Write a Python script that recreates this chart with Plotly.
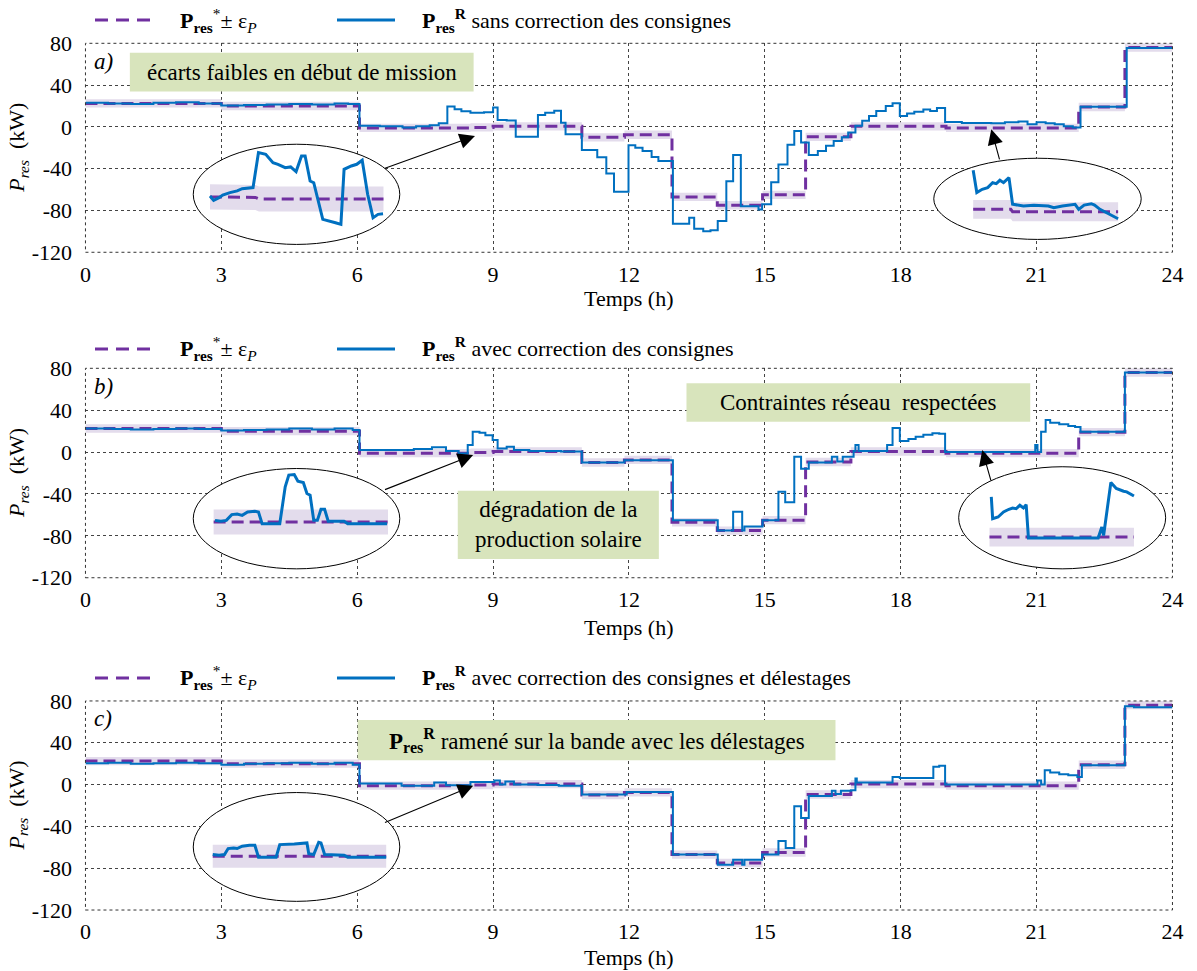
import plotly.graph_objects as go

FONT = "'Liberation Serif', 'Times New Roman', Times, serif"
PURPLE = "#7030a0"
BLUE = "#0070c0"
BAND = "#e3dcec"
BOXC = "#d8e4bc"
EPS = 4.0

# ---------------- data ----------------
ref_t = [0, 3.0, 6.05, 8.5, 9.0, 10.96, 11.9, 12.95, 13.95, 14.95, 15.9, 16.9, 19.0, 21.93, 22.95, 24]
ref_v = [22.5, 20, -1, -0.5, 0.5, -10, -7.5, -67, -75, -65, -9.5, 0.5, -1, 19, 76, 76]

a_t = [0, 0.5, 1.0, 1.5, 2.0, 2.5, 3.0, 3.5, 4.0, 4.5, 5.0, 5.5, 5.8, 6.05, 6.5, 7.0, 7.3, 7.6, 7.8,
       7.99, 8.15, 8.3, 8.5, 8.8, 9.0, 9.1, 9.3, 9.5, 9.99, 10.15, 10.35, 10.5, 10.6, 10.96, 11.3, 11.5,
       11.67, 11.99, 12.14, 12.3, 12.5, 12.65, 12.97, 13.33, 13.44, 13.64, 13.8, 13.96, 14.15, 14.3,
       14.47, 14.86, 14.94, 15.14, 15.3, 15.5, 15.65, 15.8, 15.97, 16.17, 16.35, 16.52, 16.7, 16.84,
       17.0, 17.15, 17.3, 17.46, 17.67, 17.82, 17.98, 18.14, 18.3, 18.5, 18.65, 18.8, 18.98, 19.35,
       20.0, 20.3, 20.6, 20.8, 21.0, 21.2, 21.4, 21.6, 21.8, 21.97, 22.99, 24]
a_v = [23, 22.5, 22, 23, 23.5, 22.5, 20.5, 21, 21.5, 22, 21.5, 22.5, 22, 1, 0.5, -0.5, 0.5, 1.5, 3.5,
       19.5, 17, 15, 13.5, 14, 18.5, 6.5, 6, -9.5, 11.5, 13.5, 15.5, 4, -7, -22, -29, -44.5,
       -62, -17.6, -20, -23, -28.8, -32.6, -92.6, -87, -97.4, -100, -99, -90, -52, -27,
       -76, -79, -74, -53, -36, -17, -4, -15, -27, -23, -18, -13.4, -10, -5.4,
       1, 5.8, 10.5, 15.3, 20, 22.7, 10.5, 12.8, 14.4, 16.6, 15.3, 18.2, 4.8, 3.8,
       3.5, 4.5, 5.2, 2.5, 4.5, 3.5, 2.5, 0.5, -0.5, 19.2, 75.5, 75.5]

b_t = [0, 0.6, 1.0, 1.5, 2.0, 2.5, 3.0, 3.5, 4.0, 4.5, 5.0, 5.5, 5.9, 6.05, 7.25, 7.65, 7.96, 8.24,
       8.44, 8.55, 8.7, 8.83, 8.99, 9.1, 9.3, 9.46, 9.8, 10.5, 10.96, 11.9, 12.97, 13.96, 14.3, 14.5,
       14.55, 14.95, 15.3, 15.45, 15.65, 15.8, 15.97, 16.48, 16.6, 16.72, 16.96, 17.0, 17.07, 17.7,
       17.82, 17.98, 18.17, 18.33, 18.5, 18.7, 18.85, 18.98, 20.97, 21.02, 21.1, 21.2, 21.3, 21.5,
       21.7, 21.85, 21.97, 22.95, 24]
b_v = [22.5, 22, 21.5, 22, 22.5, 22, 20.5, 21, 21.5, 22.5, 21.5, 22.5, 21, 2, 3, 4.5, 1, -1.3,
       6.7, 19.5, 18.5, 16, 11.5, 3.5, 5, 2, 1, 0.5, -10, -7.7, -65, -75, -57, -75,
       -71, -65, -38, -48, -4.5, -16, -10, -4.5, -9, -4.5, 1, 6.7, 1, 6.7,
       23, 10.5, 12.5, 14.7, 16.5, 18, 17.5, 0, 6.7, 0, 19.5, 30.7, 28, 26.5,
       25, 24, 19.5, 76, 76]

c_t = [0, 0.5, 1.0, 1.5, 2.0, 2.5, 3.0, 3.5, 4.0, 4.5, 5.0, 5.5, 5.9, 6.05, 6.98, 7.7, 7.96, 8.5,
       9.03, 9.15, 9.27, 9.46, 9.98, 10.45, 10.96, 11.95, 12.97, 13.96, 14.3, 14.5, 14.55, 14.94,
       15.3, 15.46, 15.65, 15.8, 15.97, 16.48, 16.56, 16.68, 16.9, 17.0, 17.03, 17.82, 17.98, 18.72,
       18.85, 18.98, 21.02, 21.1, 21.18, 21.3, 21.5, 21.7, 21.9, 22.0, 22.95, 23.15, 24]
c_v = [20.5, 21, 20, 20.5, 21, 20.5, 19, 20, 20.5, 21, 20, 21, 19, 1, -1, 2, -0.6, 2.5,
       4, 0, 3, 0, -0.5, -1, -9.6, -7, -67, -76.7, -72, -76.7, -72, -67,
       -54, -60.7, -20.8, -32, -10.9, -6, -9, -6, -5.5, 5.8, 2, 7.3, 6.4, 17,
       18, 0, 4, 0, 13.7, 11.5, 10, 9, 7.3, 18.5, 75, 74, 74]

# zoom insets (drawn inside the ellipses)
ia1_ref_x = [2.75, 3.75, 3.83, 6.58]
ia1_ref_y = [-67, -67.5, -69, -69]
ia1_x = [2.75, 2.83, 2.95, 3.03, 3.19, 3.35, 3.46, 3.70, 3.82, 3.98, 4.14, 4.25, 4.41, 4.53, 4.65,
         4.77, 4.85, 4.96, 5.04, 5.24, 5.52, 5.64, 5.71, 5.87, 5.99, 6.11, 6.23, 6.35, 6.46, 6.57]
ia1_y = [-66.1, -70.3, -67.7, -65.2, -62.9, -61.3, -59.1, -58.1, -24.6, -26.2, -34.2, -35.8, -39.0,
         -38.3, -42.8, -27.8, -27.8, -51.8, -53.4, -88.5, -91.7, -93.3, -40.6, -37.4, -35.8, -31.9,
         -64.5, -86.9, -83.7, -83.1]

ia2_ref_x = [19.60, 20.43, 20.47, 22.80]
ia2_ref_y = [-78.9, -78.9, -81.2, -81.2]
ia2_x = [19.60, 19.68, 19.80, 19.92, 20.03, 20.11, 20.19, 20.27, 20.39, 20.47, 20.71, 20.94, 21.26,
         21.38, 21.57, 21.73, 21.85, 21.93, 22.05, 22.21, 22.28, 22.40, 22.60, 22.80]
ia2_y = [-41.5, -62.9, -59.7, -58.1, -53.4, -54.3, -51.1, -53.4, -48.6, -74.1, -75.7, -75.1, -75.7,
         -77.3, -75.7, -74.8, -74.1, -78.9, -74.8, -73.5, -74.8, -78.9, -83.7, -87.9]

ib1_ref_x = [2.83, 6.68]
ib1_ref_y = [-66.8, -66.8]
ib1_x = [2.86, 2.99, 3.11, 3.23, 3.35, 3.46, 3.58, 3.74, 3.82, 3.90, 4.29, 4.41, 4.49, 4.61, 4.69,
         4.81, 4.89, 4.96, 5.04, 5.12, 5.20, 5.28, 5.36, 5.71, 5.79, 6.66]
ib1_y = [-65.2, -66.1, -65.2, -59.7, -59.1, -60.4, -57.2, -56.5, -57.2, -68.4, -68.4, -33.2, -22.0,
         -21.4, -27.8, -29.1, -39.6, -41.2, -65.2, -65.2, -54.6, -54.6, -66.1, -66.1, -68.4, -68.4]

ib2_ref_x = [19.96, 23.15]
ib2_ref_y = [-81.2, -81.2]
ib2_x = [20.00, 20.03, 20.15, 20.27, 20.39, 20.47, 20.55, 20.63, 20.71, 20.77, 20.82, 22.36, 22.44,
         22.48, 22.64, 22.76, 22.92, 22.99, 23.15]
ib2_y = [-42.8, -63.6, -62.0, -57.2, -54.6, -53.4, -54.0, -50.8, -53.4, -50.2, -82.1, -82.1, -71.6,
         -79.6, -29.1, -34.8, -37.4, -38.0, -41.9]

ic1_ref_x = [2.81, 6.64]
ic1_ref_y = [-68.5, -68.5]
ic1_x = [2.81, 2.95, 3.07, 3.15, 3.27, 3.35, 3.46, 3.62, 3.74, 3.82, 4.21, 4.29, 4.61, 4.81, 4.89,
         4.93, 5.04, 5.15, 5.20, 5.28, 5.71, 5.79, 6.64]
ic1_y = [-66.9, -67.5, -66.9, -61.2, -60.6, -61.2, -59.0, -58.0, -58.0, -69.4, -69.4, -57.4, -56.8,
         -55.8, -55.8, -66.2, -66.9, -55.2, -55.8, -66.9, -67.5, -69.4, -69.4]

x_ticks = [0, 3, 6, 9, 12, 15, 18, 21, 24]
y_ticks = [-120, -80, -40, 0, 40, 80]
y_tick_text = ["-120", "-80", "-40", "0", "40", "80"]

legend_blue = [
    "<b>P<sub>res</sub><sup>R</sup></b> sans correction des consignes",
    "<b>P<sub>res</sub><sup>R</sup></b> avec correction des consignes",
    "<b>P<sub>res</sub><sup>R</sup></b> avec correction des consignes et délestages",
]
legend_ref = "<b>P<sub>res</sub></b><sup>*</sup>± ε<sub><i>P</i></sub>"
panel_tags = ["a)", "b)", "c)"]

# ---------------- figure ----------------
X_DOM = [0.0714, 0.9795]
Y_DOMS = [[0.7402, 0.9554], [0.4050, 0.6207], [0.0628, 0.2781]]
LEG_Y = [0.9794, 0.6406, 0.3018]
XT_Y = [1 - 298 / 971, 1 - 627 / 971, 1 - 957 / 971]

fig = go.Figure()
shapes = []
annots = []

blue_sets = [(a_t, a_v), (b_t, b_v), (c_t, c_v)]
insets = [
    [(ia1_ref_x, ia1_ref_y, ia1_x, ia1_y, 12, (2.38, 6.94, -112.5, -16.6), (6.58, -40, 8.60, -8.6)),
     (ia2_ref_x, ia2_ref_y, ia2_x, ia2_y, 9, (18.73, 23.31, -107.7, -30.0), (20.19, -32.6, 20.0, -2.2))],
    [(ib1_ref_x, ib1_ref_y, ib1_x, ib1_y, 12, (2.38, 6.94, -111.5, -15.7), (6.58, -36.4, 8.56, -2.9)),
     (ib2_ref_x, ib2_ref_y, ib2_x, ib2_y, 9, (19.28, 23.85, -111.5, -14.0), (20.0, -28.4, 19.8, 1.9))],
    [(ic1_ref_x, ic1_ref_y, ic1_x, ic1_y, 11, (2.38, 6.94, -111.7, -7.6), (6.58, -36.9, 8.56, -1.0))],
]
boxes = [
    [((0.98, 8.57, 33.9, 71.0), "écarts faibles en début de mission")],
    [((8.22, 12.66, -102, -37), "dégradation de la<br>production solaire"),
     ((13.27, 20.86, 29.0, 65.8), "Contraintes réseau  respectées")],
    [((6.01, 16.56, 23.3, 61.7),
      "<b>P<sub>res</sub><sup>R</sup></b> ramené sur la bande avec les délestages")],
]

for i in range(3):
    xa = "x" if i == 0 else f"x{i+1}"
    ya = "y" if i == 0 else f"y{i+1}"
    lo = [v - EPS for v in ref_v]
    hi = [v + EPS for v in ref_v]
    fig.add_trace(go.Scatter(x=ref_t, y=lo, mode="lines", line=dict(width=0, shape="hv"),
                             xaxis=xa, yaxis=ya, showlegend=False, hoverinfo="skip"))
    fig.add_trace(go.Scatter(x=ref_t, y=hi, mode="lines", line=dict(width=0, shape="hv"),
                             fill="tonexty", fillcolor=BAND,
                             xaxis=xa, yaxis=ya, showlegend=False, hoverinfo="skip"))
    fig.add_trace(go.Scatter(x=ref_t, y=ref_v, mode="lines",
                             line=dict(color=PURPLE, width=3, dash="12px,6px", shape="hv"),
                             xaxis=xa, yaxis=ya, showlegend=False))
    bt, bv = blue_sets[i]
    fig.add_trace(go.Scatter(x=bt, y=bv, mode="lines",
                             line=dict(color=BLUE, width=2, shape="hv"),
                             xaxis=xa, yaxis=ya, showlegend=False))

    for (rx, ry, ix, iy, eps, ell, arr) in insets[i]:
        shapes.append(dict(type="circle", xref=xa, yref=ya, x0=ell[0], x1=ell[1], y0=ell[2], y1=ell[3],
                           line=dict(color="black", width=1), fillcolor="white", layer="between"))
        bx = list(rx) + list(rx[::-1])
        by = [v + eps for v in ry] + [v - eps for v in ry[::-1]]
        fig.add_trace(go.Scatter(x=bx, y=by, mode="lines", fill="toself", fillcolor=BAND,
                                 line=dict(width=0), xaxis=xa, yaxis=ya, showlegend=False,
                                 hoverinfo="skip"))
        fig.add_trace(go.Scatter(x=rx, y=ry, mode="lines",
                                 line=dict(color=PURPLE, width=3, dash="12px,6px"),
                                 xaxis=xa, yaxis=ya, showlegend=False))
        fig.add_trace(go.Scatter(x=ix, y=iy, mode="lines",
                                 line=dict(color=BLUE, width=3),
                                 xaxis=xa, yaxis=ya, showlegend=False))
        annots.append(dict(x=arr[2], y=arr[3], ax=arr[0], ay=arr[1], xref=xa, yref=ya,
                           axref=xa, ayref=ya, text="", showarrow=True, arrowhead=2,
                           arrowsize=2.8, arrowwidth=1.1, arrowcolor="black"))

    for (bb, txt) in boxes[i]:
        shapes.append(dict(type="rect", xref=xa, yref=ya, x0=bb[0], x1=bb[1], y0=bb[2], y1=bb[3],
                           line=dict(width=0), fillcolor=BOXC, layer="between"))
        annots.append(dict(x=(bb[0] + bb[1]) / 2, y=(bb[2] + bb[3]) / 2, xref=xa, yref=ya,
                           text=txt, showarrow=False, font=dict(family=FONT, size=23, color="black"),
                           xanchor="center", yanchor="middle"))

    # dotted frame
    shapes.append(dict(type="rect", xref=f"{xa} domain", yref=f"{ya} domain", x0=0, x1=1, y0=0, y1=1,
                       line=dict(color="#333", width=1, dash="dot"), layer="above"))

    # panel tag
    annots.append(dict(x=0.15, y=63, xref=xa, yref=ya, text=f"<i>{panel_tags[i]}</i>",
                       showarrow=False, xanchor="left", yanchor="middle",
                       font=dict(family=FONT, size=23, color="black")))

    # legend (manual)
    ly = LEG_Y[i]
    shapes.append(dict(type="line", xref="paper", yref="paper", x0=95 / 1197, x1=153 / 1197, y0=ly, y1=ly,
                       line=dict(color=PURPLE, width=3, dash="13px,8px")))
    shapes.append(dict(type="line", xref="paper", yref="paper", x0=337 / 1197, x1=395 / 1197, y0=ly, y1=ly,
                       line=dict(color=BLUE, width=3)))
    annots.append(dict(x=178 / 1197, y=ly, xref="paper", yref="paper", text=legend_ref, showarrow=False,
                       xanchor="left", yanchor="middle", font=dict(family=FONT, size=22, color="black")))
    annots.append(dict(x=420 / 1197, y=ly, xref="paper", yref="paper", text=legend_blue[i], showarrow=False,
                       xanchor="left", yanchor="middle", font=dict(family=FONT, size=22, color="black")))

    # axis titles
    yc = (Y_DOMS[i][0] + Y_DOMS[i][1]) / 2
    annots.append(dict(x=18 / 1197, y=yc, xref="paper", yref="paper",
                       text="<i>P<sub>res</sub></i>  (kW)", textangle=-90, showarrow=False,
                       xanchor="center", yanchor="middle", font=dict(family=FONT, size=22, color="black")))
    annots.append(dict(x=(X_DOM[0] + X_DOM[1]) / 2, y=XT_Y[i], xref="paper", yref="paper",
                       text="Temps (h)", showarrow=False, xanchor="center", yanchor="middle",
                       font=dict(family=FONT, size=22, color="black")))

axis_common = dict(showgrid=True, gridcolor="#444", griddash="dot", gridwidth=1, zeroline=False,
                   showline=False, automargin=False,
                   tickfont=dict(family=FONT, size=22, color="black"),
                   ticks="outside", tickcolor="rgba(0,0,0,0)")
layout = dict(width=1197, height=971, margin=dict(l=0, r=0, t=0, b=0, autoexpand=False),
              template="none",
              paper_bgcolor="white", plot_bgcolor="white", showlegend=False,
              shapes=shapes, annotations=annots, font=dict(family=FONT, color="black"))
for i in range(3):
    sx = "xaxis" if i == 0 else f"xaxis{i+1}"
    sy = "yaxis" if i == 0 else f"yaxis{i+1}"
    ya = "y" if i == 0 else f"y{i+1}"
    xa = "x" if i == 0 else f"x{i+1}"
    layout[sx] = dict(domain=X_DOM, anchor=ya, range=[0, 24], tickvals=x_ticks, ticklen=2, **axis_common)
    layout[sy] = dict(domain=Y_DOMS[i], anchor=xa, range=[-120, 80], tickvals=y_ticks,
                      ticktext=y_tick_text, ticklen=8, **axis_common)
fig.update_layout(**layout)
fig.write_html("out.html", config={"displayModeBar": False},
               post_script="document.body.style.margin='0';document.body.style.overflow='hidden';")
